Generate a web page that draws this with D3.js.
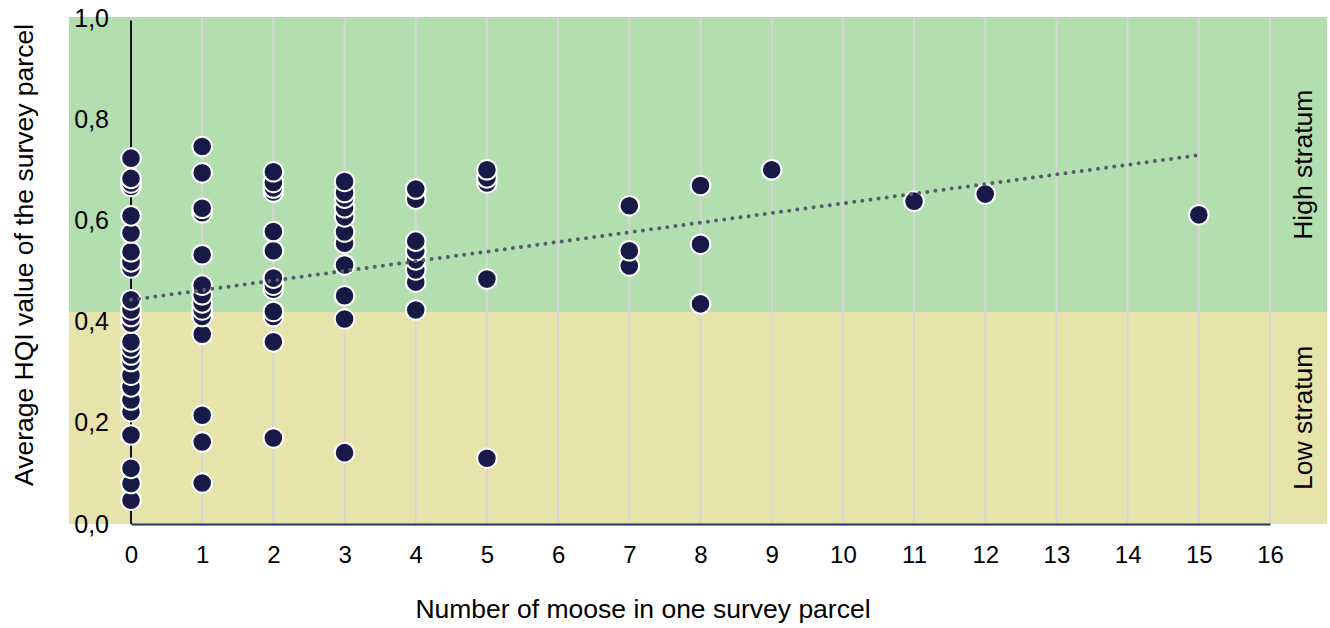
<!DOCTYPE html>
<html>
<head>
<meta charset="utf-8">
<script src="https://cdn.jsdelivr.net/npm/d3@7/dist/d3.min.js"></script>
<style>
  html, body { margin: 0; padding: 0; background: #ffffff; }
  svg { display: block; font-family: "Liberation Sans", Arial, sans-serif; }
</style>
</head>
<body>
<svg id="chart" width="1330" height="628"></svg>
<script>
// Moose count per survey parcel and the parcel's average HQI (paired by index)
const parcelMoose = [
  0,0,0,0,0,0,0,0,0,0,0,0,0,0,0,0,0,0,0,0,0,0,0,0,0,
  1,1,1,1,1,1,1,1,1,1,1,1,1,1,
  2,2,2,2,2,2,2,2,2,2,2,2,2,
  3,3,3,3,3,3,3,3,3,3,3,
  4,4,4,4,4,4,4,4,
  5,5,5,5,5,
  7,7,7,
  8,8,8,
  9,
  11,
  12,
  15
];
const parcelHqi = [
  0.723,0.683,0.674,0.667,0.609,0.575,0.538,0.518,0.506,0.443,0.423,0.410,0.397,0.360,0.348,0.334,0.321,0.294,0.271,0.245,0.222,0.176,0.110,0.080,0.047,
  0.746,0.694,0.624,0.615,0.532,0.472,0.453,0.437,0.423,0.410,0.375,0.215,0.162,0.081,
  0.696,0.675,0.664,0.656,0.578,0.540,0.486,0.472,0.464,0.420,0.410,0.360,0.170,
  0.677,0.655,0.644,0.625,0.607,0.577,0.555,0.512,0.451,0.405,0.141,
  0.662,0.642,0.559,0.540,0.522,0.502,0.478,0.423,
  0.700,0.684,0.674,0.484,0.130,
  0.629,0.540,0.510,
  0.669,0.553,0.435,
  0.700,
  0.638,
  0.652,
  0.611
];

// Linear trend: moose count at both ends and fitted HQI
const trendMoose = [0, 15];
const trendHqi = [0.443, 0.729];

// Stratum threshold on HQI and the band labels
const strataLimit = 0.42;
const strata = ["High stratum", "Low stratum"];

const xTicks = d3.range(0, 17);
const yTicks = [0, 0.2, 0.4, 0.6, 0.8, 1.0];

const svg = d3.select("#chart");
const x = d3.scaleLinear().domain([0, 16]).range([131, 1270]);
const y = d3.scaleLinear().domain([0, 1]).range([524, 18]);

const bandLeft = 69, bandRight = 1327;
const green = "#b3dfb0", yellow = "#e6e4aa";
const tickFont = 24, yTickFont = 25, titleFont = 26.5;

// Stratum bands
svg.append("rect")
  .attr("x", bandLeft).attr("y", y(1) - 1)
  .attr("width", bandRight - bandLeft).attr("height", y(strataLimit) - y(1) + 1)
  .attr("fill", green);
svg.append("rect")
  .attr("x", bandLeft).attr("y", y(strataLimit))
  .attr("width", bandRight - bandLeft).attr("height", y(0) - y(strataLimit))
  .attr("fill", yellow);
svg.append("line")
  .attr("x1", bandLeft).attr("x2", bandRight)
  .attr("y1", y(strataLimit)).attr("y2", y(strataLimit))
  .attr("stroke", "#c6dc8c").attr("stroke-width", 1);

// Vertical grid lines
svg.append("g").selectAll("line")
  .data(xTicks.filter(d => d > 0))
  .join("line")
  .attr("x1", d => x(d)).attr("x2", d => x(d))
  .attr("y1", y(1)).attr("y2", y(0))
  .attr("stroke", "#d6d6d6").attr("stroke-width", 2);

// Axes
const xAxis = d3.axisBottom(x).tickValues(xTicks).tickSize(0).tickPadding(22)
  .tickFormat(d3.format("d"));
const gx = svg.append("g").attr("transform", `translate(0,${y(0)})`).call(xAxis);
gx.select(".domain").attr("stroke", "#1f3560").attr("stroke-width", 2);
gx.selectAll("text").attr("font-size", tickFont).attr("fill", "#000")
  .attr("font-family", "Liberation Sans, Arial, sans-serif");

const yAxis = d3.axisLeft(y).tickValues(yTicks).tickSize(0).tickPadding(22)
  .tickFormat(d => d.toFixed(1).replace(".", ","));
const gy = svg.append("g").attr("transform", `translate(${x(0)},0)`).call(yAxis);
gy.select(".domain").remove();
gy.selectAll("text").attr("font-size", yTickFont).attr("fill", "#000")
  .attr("font-family", "Liberation Sans, Arial, sans-serif");
svg.append("line")
  .attr("x1", x(0)).attr("x2", x(0))
  .attr("y1", y(0.995)).attr("y2", y(0))
  .attr("stroke", "#111").attr("stroke-width", 2);

// Parcels, drawn from lowest HQI upward so higher points sit on top
const points = parcelMoose.map((m, i) => ({ m, v: parcelHqi[i] }))
  .sort((a, b) => a.v - b.v);
svg.append("g").selectAll("circle")
  .data(points)
  .join("circle")
  .attr("cx", d => x(d.m))
  .attr("cy", d => y(d.v))
  .attr("r", 9.8)
  .attr("fill", "#191947")
  .attr("stroke", "#ffffff")
  .attr("stroke-width", 2);

// Dotted trend line
svg.append("path")
  .datum(trendMoose.map((m, i) => [m, trendHqi[i]]))
  .attr("d", d3.line().x(d => x(d[0])).y(d => y(d[1])))
  .attr("fill", "none")
  .attr("stroke", "#555c6c")
  .attr("stroke-width", 4)
  .attr("stroke-linecap", "round")
  .attr("stroke-dasharray", "0 8.2");

// Stratum labels on the right
const labelX = 1303;
svg.append("text")
  .attr("transform", `translate(${labelX},${(y(1) + y(strataLimit)) / 2}) rotate(-90)`)
  .attr("text-anchor", "middle").attr("dominant-baseline", "central")
  .attr("font-size", titleFont).attr("fill", "#000")
  .text(strata[0]);
svg.append("text")
  .attr("transform", `translate(${labelX},${(y(strataLimit) + y(0)) / 2}) rotate(-90)`)
  .attr("text-anchor", "middle").attr("dominant-baseline", "central")
  .attr("font-size", titleFont).attr("fill", "#000")
  .text(strata[1]);

// Axis titles
svg.append("text")
  .attr("x", 643).attr("y", 618)
  .attr("text-anchor", "middle")
  .attr("font-size", titleFont).attr("fill", "#000")
  .text("Number of moose in one survey parcel");
svg.append("text")
  .attr("transform", "translate(33,255) rotate(-90)")
  .attr("text-anchor", "middle")
  .attr("font-size", titleFont).attr("fill", "#000")
  .text("Average HQI value of the survey parcel");
</script>
</body>
</html>
